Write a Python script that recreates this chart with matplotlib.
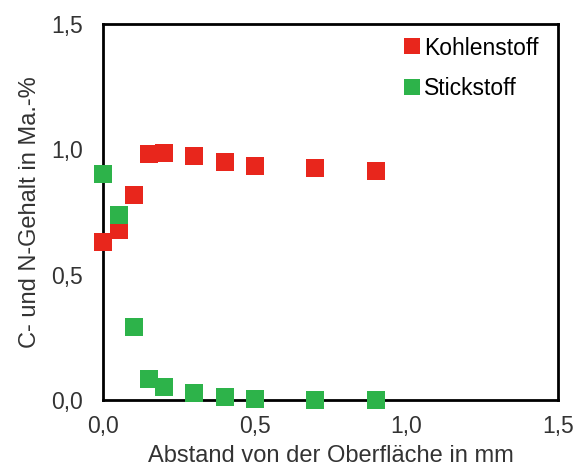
import matplotlib
matplotlib.use("Agg")
import matplotlib.pyplot as plt
from matplotlib.ticker import FuncFormatter

plt.rcParams['font.family'] = ['Liberation Sans', 'DejaVu Sans']

# Abstand in mm
abstand = [0.0, 0.05, 0.1, 0.15, 0.2, 0.3, 0.4, 0.5, 0.7, 0.9]
kohlenstoff = [0.63, 0.68, 0.82, 0.98, 0.985, 0.973, 0.948, 0.935, 0.925, 0.915]
stickstoff = [0.904, 0.738, 0.292, 0.086, 0.051, 0.027, 0.011, 0.003, 0.0, 0.0]
ticks = [0.0, 0.5, 1.0, 1.5]

fig = plt.figure(figsize=(5.81, 4.74), dpi=100)
ax = fig.add_axes([0.178, 0.156, 0.782, 0.793])

ax.plot(abstand, kohlenstoff, 's', color='#e8261c', markersize=13,
        markeredgewidth=0, label='Kohlenstoff', clip_on=False, zorder=3)
ax.plot(abstand, stickstoff, 's', color='#2db34a', markersize=13,
        markeredgewidth=0, label='Stickstoff', clip_on=False, zorder=3)

ax.set_xlim(0, 1.5)
ax.set_ylim(0, 1.5)
ax.set_xticks(ticks)
ax.set_yticks(ticks)
fmt = FuncFormatter(lambda v, p: f"{v:.1f}".replace('.', ','))
ax.xaxis.set_major_formatter(fmt)
ax.yaxis.set_major_formatter(fmt)
ax.tick_params(length=0, labelsize=16.5, colors='#333333')
ax.tick_params(axis='x', pad=11)
ax.tick_params(axis='y', pad=15)

for s in ax.spines.values():
    s.set_linewidth(2)
    s.set_color('black')

ax.set_xlabel('Abstand von der Oberfläche in mm', fontsize=17, labelpad=5, color='#333333')
ax.set_ylabel('C- und N-Gehalt in Ma.-%', fontsize=17, labelpad=7, color='#333333')

ax.legend(loc='upper right', bbox_to_anchor=(1.0, 1.019), frameon=False,
          fontsize=16.5, handletextpad=0.1, handlelength=0.8, labelspacing=0.75,
          markerscale=0.88, borderaxespad=0.55, borderpad=0.3)

fig.savefig('out.png', dpi=100)
